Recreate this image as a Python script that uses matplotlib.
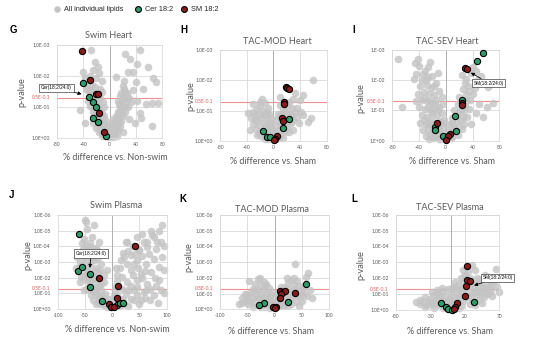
import matplotlib.pyplot as plt
import numpy as np

W, H = 536, 344

# y values below are -log10(p-value); x is % difference
# G: Swim Heart
g_all_x = [-29, -22, -18, -25, -16, -40, -38, -30, -20, -12, -35, -27, -22, -15, -33, -30, -24, -18, -12,
           -28, -20, -14, -25, -17, -10, -30, -22, -14, -8, -45, -26, -18, -11, -22, -15, -8, -38, -25,
           -18, -12, -6, -20, -14, -9, -4, -16, -11, -7, -3, -12, -8, -4, -2,
           -36, -32, -28, -26, -23, -20, -19, -16, -13, -10, -9, -6, -5, -1, -27, -33, -24, -20, -16, -13,
           1, 3, 5, 2, 6, 8, 4, 9, 12, 6, 11, 15, 8, 13, 18, 10, 16, 21, 12, 18, 24, 15, 22, 28, 17, 25,
           12, 20, 30, 18, 27, 22, 9, 22, 20, 35, 32, 23, 31, 46, 41, 28, 36, 51, 66, 71, 64, 74, 46, 64,
           42, 48, 38, 55, 30, 40, 58,
           2, 7, 10, 14, 9, 14, 19, 23, 26, 14, 24, 16, 5, 3, 20, 11]
g_all_nlp = [2.85, 2.45, 2.3, 2.2, 2.1, 2.15, 1.95, 2.0, 1.95, 1.85, 1.75, 1.7, 1.65, 1.6, 1.55, 1.45, 1.4,
             1.5, 1.5, 1.3, 1.25, 1.3, 1.15, 1.1, 1.15, 1.05, 0.95, 0.95, 1.0, 0.9, 0.85, 0.8, 0.8, 0.7,
             0.65, 0.7, 0.48, 0.5, 0.42, 0.5, 0.55, 0.32, 0.3, 0.35, 0.4, 0.2, 0.15, 0.22, 0.2, 0.05, 0.08,
             0.05, 0.1,
             1.6, 1.85, 1.55, 1.35, 1.25, 1.1, 0.95, 0.9, 0.7, 0.6, 0.45, 0.3, 0.15, 0.03, 1.0, 1.2, 0.75,
             0.6, 0.5, 0.35,
             0.05, 0.12, 0.04, 0.22, 0.2, 0.12, 0.32, 0.3, 0.25, 0.42, 0.45, 0.4, 0.55, 0.6, 0.55, 0.7,
             0.75, 0.7, 0.85, 0.9, 0.85, 1.0, 1.05, 1.0, 1.15, 1.2, 1.2, 1.3, 1.3, 1.45, 1.45, 1.6, 1.96,
             1.85, 1.67, 1.55, 1.15, 2.73, 2.57, 2.86, 2.41, 2.14, 2.14, 1.6, 1.93, 1.82, 1.12, 1.12, 0.8,
             0.39, 1.2, 0.65, 0.5, 1.1, 0.62, 1.8, 2.3,
             0.1, 0.35, 0.45, 0.5, 0.65, 0.8, 0.8, 1.0, 1.3, 1.1, 1.5, 1.35, 0.6, 0.45, 0.2, 0.05]
g_cer_x = [-41, -31, -25.8, -21.3, -24.9, -18.2, -5.6]
g_cer_nlp = [1.77, 1.33, 1.17, 1.01, 0.64, 0.53, 0.06]
g_sm_x = [-41.5, -29.4, -21, -17.7, -16.7, -8.6]
g_sm_nlp = [2.82, 1.88, 1.42, 1.42, 0.81, 0.18]

# H: TAC-MOD Heart
h_all_x = [-38, -30, -25, -17, -20, -12, -33, -27, -22, -15, -8, -30, -24, -18, -12, -6, -35, -26, -20,
           -14, -8, -3, -22, -11, -5, -18, -12, -6, -2, -8, -3, -13,
           -28, -16, -10, -4, -1, -25, -30, -20, -9,
           2, 5, 8, 4, 10, 7, 12, 10, 14, 18, 20, 25, 22, 28, 30, 32, 26, 20, 30, 35, 40, 45, 42, 45, 33,
           10, 52, 57, 60, 18, 24, 30, 12, 8, 4, 15,
           6, 9, 15, 22, 28, 36, 16, 1, 24, 38]
h_all_nlp = [0.92, 1.22, 1.05, 1.38, 1.15, 1.25, 0.75, 0.85, 0.9, 1.0, 1.1, 0.55, 0.65, 0.75, 0.85, 0.9,
             0.35, 0.4, 0.5, 0.6, 0.7, 0.75, 0.25, 0.4, 0.5, 0.15, 0.25, 0.3, 0.4, 0.05, 0.15, 0.05,
             0.7, 0.85, 0.55, 0.6, 0.2, 0.2, 0.95, 1.3, 0.95,
             0.3, 0.5, 0.35, 0.7, 0.6, 0.9, 0.9, 1.2, 1.05, 1.0, 0.85, 0.9, 1.15, 1.1, 1.38, 0.95, 0.6,
             0.45, 0.7, 0.8, 1.35, 0.86, 0.97, 1.52, 1.57, 1.46, 0.64, 0.75, 2.0, 0.3, 0.3, 0.35, 0.2,
             0.1, 0.05, 0.1,
             0.2, 0.8, 0.75, 0.6, 0.85, 1.1, 1.3, 0.1, 1.3, 0.6]
h_cer_x = [23, 15, -15.5, -9, -5]
h_cer_nlp = [0.74, 0.42, 0.32, 0.14, 0.12]
h_sm_x = [18.5, 21, 23, 15.5, 16, 13.5, 15, 5, 3, 0.5]
h_sm_nlp = [1.78, 1.74, 1.70, 1.30, 1.21, 0.75, 0.67, 0.15, 0.08, 0.02]

# I: TAC-SEV Heart
i_all_x = [-72, -66, -46, -41, -40, -26, -23, -48, -34, -30, -20, -12, -38, -28, -22, -15, -42, -33, -25,
           -18, -10, -36, -28, -20, -14, -6, -40, -31, -24, -17, -10, -4, -35, -28, -21, -13, -6, -38,
           -30, -24, -18, -8, -2, -34, -27, -21, -10, -4, -30, -23, -12, -7, -25, -18, -10, -2,
           -44, -36, -31, -26, -17, -45, -32, -23, -16, -27, -20, -12, -33, -26, -15, -12, -16, -5, -8,
           -20,
           2, 5, 3, 8, 10, 12, 6, 18, 20, 9, 16, 22, 27, 12, 19, 26, 32, 18, 28, 34, 20, 30, 36, 26, 33,
           40, 23.5, 30, 37, 43, 48, 63, 71, 61, 50, 45, 38, 55, 40, 45, 52,
           14, 24, 25, 22, 30, 15, 10, 8, 28, 35]
i_all_nlp = [2.7, 1.13, 2.56, 2.7, 2.48, 2.45, 2.6, 2.03, 2.2, 2.0, 2.15, 2.23, 1.8, 1.85, 1.75, 1.9, 1.55,
             1.6, 1.55, 1.5, 1.65, 1.35, 1.3, 1.25, 1.35, 1.45, 1.1, 1.05, 1.0, 1.05, 1.1, 1.2, 0.85,
             0.8, 0.8, 0.85, 0.9, 0.6, 0.55, 0.6, 0.55, 0.65, 0.7, 0.35, 0.35, 0.4, 0.4, 0.45, 0.15,
             0.2, 0.25, 0.2, 0.05, 0.08, 0.05, 0.25,
             2.2, 2.0, 2.3, 2.1, 1.8, 1.3, 1.4, 1.3, 1.2, 1.1, 0.95, 1.0, 0.7, 0.55, 0.6, 0.45, 0.25,
             0.6, 0.05, 0.1,
             0.05, 0.1, 0.35, 0.3, 0.12, 0.5, 0.55, 0.2, 0.45, 0.75, 0.65, 0.7, 0.55, 1.0, 0.95, 0.95,
             0.8, 1.2, 1.15, 1.05, 1.45, 1.5, 1.35, 1.7, 1.8, 1.55, 2.18, 2.05, 2.25, 1.73, 2.0, 1.79,
             1.24, 1.13, 1.2, 0.9, 0.55, 0.8, 2.45, 2.3, 2.15,
             0.35, 0.4, 0.8, 1.05, 1.3, 0.85, 0.6, 0.1, 1.9, 1.65]
i_cer_x = [55.8, 46.8, 24.4, 13.5, 15, -16.4, -16.4, -4]
i_cer_nlp = [2.89, 2.62, 1.35, 0.83, 0.32, 0.46, 0.36, 0.16]
i_sm_x = [29, 31.5, 23.5, 23.5, -13, 6, 4, 0.5]
i_sm_nlp = [2.42, 2.36, 1.25, 1.17, 0.6, 0.21, 0.17, 0.01]

# J: Swim Plasma
j_all_x = [-49, -48, -45, -33, -51, -36, -24, -54, -39, -27, -18, -64, -48, -33, -21, -9, -57, -48, -33,
           -24, -15, -51, -33, -24, -12, -5.5, -30, -15, -9, -58, -44, -30, -40, -50, -26, -45, -36, -28,
           -20, -42, -38, -18, -10, -5, -25, -40, -30, -14, -58, -66,
           -55, -47, -42, -35, -52, -38, -28, -56, -46, -35, -22, -52, -44, -38, -28, -20, -46, -38,
           -30, -28, -20, -14, -35, -22, -12, -3, -1,
           28, 46.5, 55.7, 71, 74, 86, 92, 83, 65, 49.5, 34, 16, 28, 46.5, 62, 77, 86, 71, 52.6, 34, 19,
           28, 46.5, 65, 86, 89, 77, 59, 40, 25, 34, 52.6, 16, 22, 25.7, 50, 65, 77.6, 90, 96, 5, 10, 8,
           20, 38, 40, 55, 70, 35, 12, 45, 60, 5, 30,
           10, 15, 22, 30, 42, 55, 58, 68, 80, 95, 38, 48, 60, 78, 92, 18, 30, 45, 62, 80, 95, 10, 20,
           40, 70, 85, 15, 50, 3, 7]
j_all_nlp = [5.68, 5.55, 5.13, 5.34, 4.49, 4.6, 4.28, 3.85, 3.96, 3.74, 3.43, 3.32, 3.1, 3.1, 2.9, 2.47,
             2.04, 1.83, 2.04, 1.51, 1.72, 1.19, 1.09, 0.77, 0.98, 0.66, 0.34, 0.23, 0.13, 3.0, 3.5, 2.6,
             2.9, 2.6, 2.3, 2.3, 1.7, 1.4, 1.2, 1.5, 0.9, 0.55, 0.4, 0.2, 0.45, 4.2, 3.9, 2.2, 1.7, 2.6,
             4.2, 4.0, 3.8, 3.6, 3.4, 3.3, 3.2, 2.8, 2.7, 2.4, 2.5, 2.2, 2.0, 1.9, 1.9, 1.6, 1.3, 1.2,
             1.25, 0.9, 0.85, 0.7, 0.6, 0.3, 0.3, 0.4, 0.15,
             4.28, 4.6, 4.8, 5.0, 4.7, 5.0, 5.34, 4.28, 3.96, 3.74, 3.43, 3.1, 2.9, 3.1, 2.9, 3.2, 2.7,
             2.36, 2.26, 2.47, 2.04, 1.72, 1.83, 1.62, 1.83, 1.19, 0.87, 1.09, 1.19, 0.98, 0.66, 0.55,
             0.66, 0.3, 4.3, 3.77, 4.3, 4.6, 4.3, 2.5, 1.2, 1.8, 2.6, 3.6, 4.0, 2.9, 2.0, 1.3, 1.5, 0.5,
             0.9, 0.7, 0.5, 0.2,
             2.2, 2.6, 3.3, 3.7, 3.5, 3.4, 4.3, 3.5, 3.8, 4.0, 2.2, 2.6, 2.4, 2.0, 3.3, 1.3, 1.2, 1.4,
             1.2, 1.5, 1.0, 0.9, 0.6, 0.6, 0.6, 0.4, 0.2, 0.3, 0.8, 1.5]
j_cer_x = [-60, -61.5, -55, -40.5, -40.5, -19, 10, 14, 21]
j_cer_nlp = [4.8, 2.4, 2.66, 2.25, 1.38, 0.51, 0.25, 0.36, 0.36]
j_sm_x = [43, -23, 11.5, 8.5, -5, -1, 3]
j_sm_nlp = [4.02, 1.97, 1.46, 0.7, 0.35, 0.14, 0.1]

# K: TAC-MOD Plasma
k_all_x = [-46, -31, -26, -20, -35, -25, -15, -40, -30, -20, -10, -55, -45, -35, -25, -15, -5, -60, -50,
           -40, -30, -20, -10, -3, -65, -48, -38, -15, -8, -40, -25, -15, -8, -5,
           -50, -35, -28, -22, -12, -8, -45, -55, -30, -3, -18, -60,
           3, 8, 6, 15, 20, 12, 20, 27, 25, 22.7, 30, 35, 30, 33, 40, 45, 50, 45, 55, 60, 62, 58, 38, 65,
           68, 40, 30, 15, 20, 8, 50, 35, 42,
           5, 10, 18, 25, 28, 35, 40, 48, 52, 45, 25, 6]
k_all_nlp = [1.82, 1.93, 1.98, 1.75, 1.6, 1.55, 1.6, 1.3, 1.25, 1.3, 1.35, 1.0, 1.05, 0.95, 0.95, 1.0, 1.1,
             0.7, 0.65, 0.7, 0.65, 0.7, 0.75, 0.8, 0.35, 0.35, 0.4, 0.45, 0.4, 0.15, 0.15, 0.15, 0.1,
             0.25,
             0.9, 1.2, 0.8, 0.55, 0.6, 0.9, 0.5, 0.5, 0.2, 0.4, 1.55, 0.4,
             0.4, 0.5, 0.8, 0.6, 0.8, 1.4, 1.45, 1.3, 1.7, 1.97, 1.85, 1.6, 1.05, 0.75, 1.3, 1.5, 1.2,
             0.8, 1.0, 0.85, 2.29, 2.08, 2.86, 1.25, 0.7, 0.45, 0.35, 0.2, 0.35, 0.2, 0.5, 2.0, 1.8,
             0.3, 0.45, 0.55, 0.9, 0.65, 1.3, 0.9, 0.9, 1.4, 0.2, 0.2, 1.05]
k_cer_x = [58, 24, -20, -29]
k_cer_nlp = [1.58, 0.47, 0.4, 0.3]
k_sm_x = [10.5, 16.5, 19, 12.3, 10.5, 38, -2, 3, 1]
k_sm_nlp = [1.18, 1.12, 1.15, 1.0, 0.72, 1.06, 0.15, 0.15, 0.08]

# L: TAC-SEV Plasma
l_all_x = [-45, -40, -35, -30, -28, -25, -22, -20, -18, -15, -12, -10, -8, -5, -3, -2, 0, 3, 5, 8, 10,
           12, 14, 15, 17, 18, 20, 22, 25, 26, 30, 32, 35, 36, 38, 40, 42, 45, 47, 50, 52, 55, 58, 62,
           65, 66, 70, 40, 48, 28, 15, -25, -12, 12, -45, -37.7, -28, -20.8, -13.5, 2.4, 5.8, 20.3, 30,
           34.8,
           -38, -32, -24, -20, -14, -8, -4, 2, 8, 12, 16, 25, 30, 34, 38, 44, 50, 55, 60, 45, 35, 10,
           -16, 28, 18, 42, 58, -50]
l_all_nlp = [0.35, 0.55, 0.3, 0.7, 0.45, 0.95, 0.6, 1.1, 0.3, 0.75, 1.2, 0.55, 0.9, 1.3, 0.7, 0.35, 1.0,
             1.4, 0.65, 1.1, 1.6, 0.8, 1.3, 2.0, 0.55, 1.75, 2.2, 1.2, 2.45, 1.5, 1.1, 1.7, 1.35, 0.9,
             2.0, 1.5, 1.15, 1.7, 1.35, 2.2, 1.0, 1.55, 1.25, 1.8, 2.58, 1.45, 1.15, 0.6, 0.8, 0.35,
             0.25, 0.15, 0.15, 0.15, 0.63, 0.8, 1.15, 1.26, 1.36, 1.43, 1.78, 2.2, 2.83, 2.52,
             0.2, 0.5, 0.35, 0.7, 0.5, 0.35, 0.55, 0.45, 0.75, 0.5, 0.95, 0.8, 0.6, 1.05, 1.25, 0.95,
             1.4, 1.1, 0.9, 0.45, 0.3, 1.3, 0.9, 2.0, 2.5, 1.9, 1.6, 0.5]
l_cer_x = [34, -15, -7, -5, 1]
l_cer_nlp = [0.52, 0.42, 0.16, 0.08, 0.02]
l_sm_x = [23.6, 23.6, 27.5, 21.3, 20.3, 8.2, 6, 4.5]
l_sm_nlp = [2.77, 1.9, 1.82, 1.51, 0.88, 0.42, 0.22, 0.08]

GREY = '#c4c4c4'
GREEN = '#2f9e6c'
RED = '#8a1c1c'
TXT = '#595959'
SANS = 'Liberation Sans'
CAL = 'Lato'

fig = plt.figure(figsize=(W / 100, H / 100), dpi=100)
page = fig.add_axes([0, 0, 1, 1])
page.set_xlim(0, W)
page.set_ylim(H, 0)
page.axis('off')


def rect(l, t, r, b):
    return [l / W, 1 - b / H, (r - l) / W, (b - t) / H]


def pv(nlp):
    return 10.0 ** -np.asarray(nlp, dtype=float)


def panel(box, xlim, xticks, ndec, short, all_x, all_nlp, cer_x, cer_nlp, sm_x, sm_nlp):
    ax = fig.add_axes(rect(*box))
    ax.set_yscale('log')
    ax.set_xlim(*xlim)
    ax.set_ylim(1, 10.0 ** -ndec)
    ax.set_xticks(xticks)
    ax.set_xticklabels([str(t) for t in xticks])
    ax.set_yticks([10.0 ** -k for k in range(ndec + 1)])
    lead = '1.E' if short else '1.0E'
    ax.set_yticklabels([lead + ('+00' if k == 0 else '-%02d' % k) for k in range(ndec + 1)])
    ax.yaxis.set_minor_locator(plt.NullLocator())
    ax.grid(True, color='#d9d9d9', lw=0.6)
    ax.set_axisbelow(True)
    for s in ax.spines.values():
        s.set_color('#d9d9d9')
        s.set_linewidth(0.6)
    ax.tick_params(length=0, labelsize=3.6, colors=TXT, pad=3)
    ax.tick_params(axis='y', pad=5)
    for lab in ax.get_xticklabels() + ax.get_yticklabels():
        lab.set_family(CAL)
    ax.axvline(0, color='#b0b0b0', lw=0.7, zorder=0.8)
    ax.axhline(0.05, color='#f09090', lw=0.8, zorder=1.2)
    ax.annotate('0.5E-0.1', xy=(0, 0.05), xycoords=('axes fraction', 'data'), xytext=(-5, 0),
                textcoords='offset points', ha='right', va='center', fontsize=3.6,
                color='#e05a5a', family=CAL)
    ax.scatter(all_x, pv(all_nlp), s=30, color=GREY, alpha=0.8, lw=0, zorder=2, clip_on=False)
    ax.scatter(cer_x, pv(cer_nlp), s=20, color=GREEN, edgecolor='black', lw=0.8, zorder=3, clip_on=False)
    ax.scatter(sm_x, pv(sm_nlp), s=20, color=RED, edgecolor='black', lw=0.8, zorder=4, clip_on=False)
    return ax


def note(ax, text, xy, at):
    ax.annotate(text, xy=xy, xytext=(at[0], H - at[1]), textcoords='figure pixels',
                ha='center', va='center', fontsize=3.4, family=SANS, zorder=6,
                bbox=dict(boxstyle='square,pad=0.35', fc='white', ec='#404040', lw=0.5),
                arrowprops=dict(arrowstyle='-|>', color='black', lw=0.6, mutation_scale=5,
                                shrinkA=0, shrinkB=0))


ax_g = panel((57, 45.3, 162.3, 138), (-80, 80), [-80, -40, 0, 40, 80], 3, False,
             g_all_x, g_all_nlp, g_cer_x, g_cer_nlp, g_sm_x, g_sm_nlp)
ax_h = panel((220, 50, 326.7, 141), (-80, 80), [-80, -40, 0, 40, 80], 3, False,
             h_all_x, h_all_nlp, h_cer_x, h_cer_nlp, h_sm_x, h_sm_nlp)
ax_i = panel((392.3, 50, 499.3, 140.7), (-80, 80), [-80, -40, 0, 40, 80], 3, True,
             i_all_x, i_all_nlp, i_cer_x, i_cer_nlp, i_sm_x, i_sm_nlp)
ax_j = panel((57.5, 215, 166.5, 309), (-100, 100), [-100, -50, 0, 50, 100], 6, False,
             j_all_x, j_all_nlp, j_cer_x, j_cer_nlp, j_sm_x, j_sm_nlp)
ax_k = panel((220, 215, 329, 309.3), (-100, 100), [-100, -50, 0, 50, 100], 6, False,
             k_all_x, k_all_nlp, k_cer_x, k_cer_nlp, k_sm_x, k_sm_nlp)
ax_l = panel((395.7, 214.7, 499.3, 310), (-80, 70), [-80, -30, 20, 70], 6, False,
             l_all_x, l_all_nlp, l_cer_x, l_cer_nlp, l_sm_x, l_sm_nlp)

note(ax_g, 'Cer(18:2/24:0)', (-42.5, pv(1.42)), (56.5, 88))
note(ax_j, 'Cer(18:2/24:0)', (-40.5, pv(2.62)), (91, 253.5))
note(ax_i, 'SM(18:2/24:0)', (37.4, pv(2.25)), (488.5, 83))
note(ax_l, 'SM(18:2/24:0)', (33.3, pv(1.55)), (497.5, 278))

# titles, axis labels and panel letters
titles = ['Swim Heart', 'TAC-MOD Heart', 'TAC-SEV Heart', 'Swim Plasma', 'TAC-MOD Plasma', 'TAC-SEV Plasma']
title_xy = [(109, 36), (277, 41), (447, 42), (116, 205), (272, 209), (450, 208)]
xlabels = ['% difference vs. Non-swim', '% difference vs. Sham', '% difference vs. Sham',
           '% difference vs. Non-swim', '% difference vs. Sham', '% difference vs. Sham']
xlabel_xy = [(115, 157), (273, 162), (452, 161), (117, 329), (271, 332), (450, 332)]
ylabel_xy = [(22, 92), (191, 96), (361, 98), (28, 255), (189, 257), (361, 265)]
letters = ['G', 'H', 'I', 'J', 'K', 'L']
letter_xy = [(13, 30), (184, 30), (354, 30), (12, 195), (183, 199), (354, 199)]

for n in range(6):
    page.text(*title_xy[n], titles[n], ha='center', va='center', fontsize=6.6, color=TXT, family=CAL)
    page.text(*xlabel_xy[n], xlabels[n], ha='center', va='center', fontsize=6.4, color=TXT, family=CAL)
    page.text(*ylabel_xy[n], 'p-value', ha='center', va='center', rotation=90, fontsize=6.6,
              color=TXT, family=CAL)
    page.text(*letter_xy[n], letters[n], ha='center', va='center', fontsize=7, fontweight='bold',
              color='black', family=SANS)

# legend row
legend_names = ['All individual lipids', 'Cer 18:2', 'SM 18:2']
legend_x = [57, 138, 184]
page.scatter(legend_x[0], 9, s=22, color=GREY, lw=0)
page.scatter(legend_x[1], 9, s=18, color=GREEN, edgecolor='black', lw=0.8)
page.scatter(legend_x[2], 9, s=18, color=RED, edgecolor='black', lw=0.8)
for name, lx in zip(legend_names, legend_x):
    page.text(lx + 7, 9.3, name, ha='left', va='center', fontsize=5.3, color='#262626', family=SANS)

fig.savefig('out.png', dpi=100)
